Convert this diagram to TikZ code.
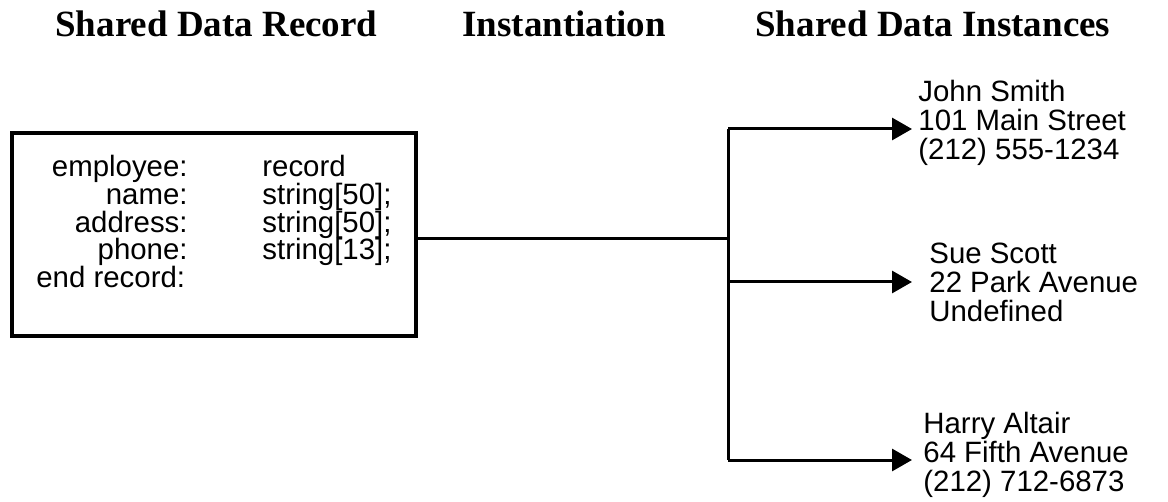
\documentclass[tikz,border=0pt]{standalone}
\usepackage{fontspec}
\setmainfont{Liberation Serif}
\setsansfont{Liberation Sans}
\usetikzlibrary{arrows.meta}

\tikzset{
  heading/.style={anchor=base west, inner sep=0pt,
    font=\bfseries\fontsize{18.5}{20}\selectfont},
  field/.style={inner sep=0pt, font=\sffamily\fontsize{14.7}{14.5}\selectfont},
  label/.style={field, anchor=base east},
  value/.style={field, anchor=base west},
  % placed by the baseline of the last line
  instance/.style={field, anchor=base west, align=left},
  wire/.style={line width=1.5pt},
  feed/.style={wire, -{Triangle[length=10pt,width=11pt]}},
}

\begin{document}
\begin{tikzpicture}[x=0.5pt,y=-0.5pt]
  \useasboundingbox (0,0) rectangle (1168,502);

  % column headings
  \node[heading] (hrecord) at (55,37) {Shared Data Record};
  \node[heading] (hinst) at (462,37) {Instantiation};
  \node[heading] (hshared) at (755,37) {Shared Data Instances};

  % the record type
  \node[draw, line width=2pt, inner sep=0pt, minimum width=202pt,
    minimum height=101.5pt] (record) at (214,234.5) {};
  \node[label] (kemp) at (188,177) {employee:};
  \node[value] (vemp) at (262,177) {record};
  \node[label] (kname) at (188,205) {name:};
  \node[value] (vname) at (262,205) {string[50];};
  \node[label] (kaddr) at (188,233) {address:};
  \node[value] (vaddr) at (262,233) {string[50];};
  \node[label] (kphone) at (188,260) {phone:};
  \node[value] (vphone) at (262,260) {string[13];};
  \node[value] (kend) at (36,288) {end record:};

  % the three instances
  \node[instance] (john) at (918,160) {John Smith\\101 Main Street\\(212) 555-1234};
  \node[instance] (sue) at (929,322) {Sue Scott\\22 Park Avenue\\Undefined};
  \node[instance] (harry) at (923,491) {Harry Altair\\64 Fifth Avenue\\(212) 712-6873};

  % fan-out
  \coordinate (split) at (728,239);
  \coordinate (ftop) at (728,129);
  \coordinate (fmid) at (728,282);
  \coordinate (fbot) at (728,460);
  \coordinate (tjohn) at (912,129);
  \coordinate (tsue) at (912,282);
  \coordinate (tharry) at (912,460);

  \draw[wire] (record.east |- split) -- (split);
  \draw[wire] (ftop) -- (fbot);
  \draw[feed] (ftop) -- (tjohn);
  \draw[feed] (fmid) -- (tsue);
  \draw[feed] (fbot) -- (tharry);
\end{tikzpicture}
\end{document}
